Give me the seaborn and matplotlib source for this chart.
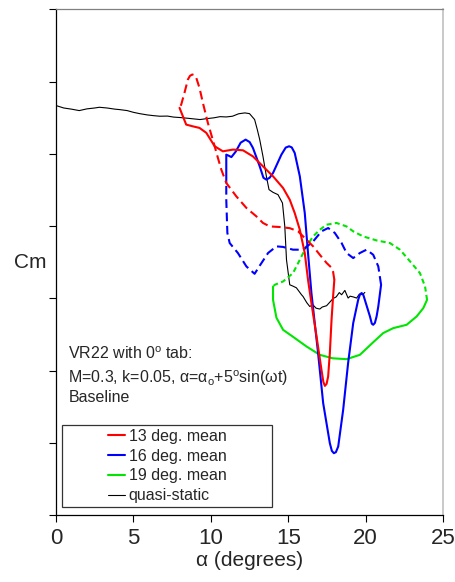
import numpy as np
import pandas as pd
import matplotlib
matplotlib.use("Agg")
import matplotlib.pyplot as plt
from matplotlib.lines import Line2D
from matplotlib.patches import Rectangle
import seaborn as sns

# quasi-static curve
qs_alpha = [0.0, 0.5, 1.0, 1.5, 2.0, 2.5, 2.8, 3.3, 3.8, 4.1, 4.6, 5.0, 5.4, 5.9, 6.3,
            6.7, 7.2, 7.6, 8.0, 8.5, 9.3, 9.8, 10.2, 10.6, 11.0, 11.4, 11.8, 12.2, 12.5,
            12.83, 13.0, 13.16, 13.37, 13.59, 13.76, 14.02, 14.34, 14.63, 14.78, 14.89,
            15.10, 15.3, 15.53, 15.86, 15.96, 16.2, 16.39, 16.6, 16.8, 17.04, 17.2, 17.48,
            17.7, 17.90, 18.1, 18.3, 18.45, 18.66, 18.87, 19.0, 19.2, 19.42, 19.6, 19.8, 19.95]
qs_cm = [0.0335, 0.0318, 0.0310, 0.0300, 0.0312, 0.0318, 0.0323, 0.0318, 0.0310, 0.0307,
         0.0300, 0.0288, 0.0279, 0.0270, 0.0265, 0.0261, 0.0262, 0.0255, 0.0252, 0.0247,
         0.0238, 0.0245, 0.0250, 0.0258, 0.0256, 0.0261, 0.0278, 0.0284, 0.0279, 0.0238,
         0.0170, 0.0099, -0.0017, -0.0155, -0.0247, -0.0266, -0.0282, -0.0340, -0.0502,
         -0.0733, -0.0906, -0.0915, -0.0927, -0.0975, -0.0987, -0.1030, -0.1056, -0.1045,
         -0.1068, -0.1074, -0.1060, -0.1051, -0.1025, -0.1001, -0.0990, -0.0960, -0.0975,
         -0.0945, -0.0998, -0.0985, -0.0990, -0.0998, -0.0970, -0.0975, -0.0959]

# 13 deg mean: upstroke (solid) and downstroke (dashed)
r_up_alpha = [7.98, 8.41, 8.84, 9.27, 9.71, 10.25, 10.78, 11.43, 12.08, 12.72, 13.37, 14.02,
              14.67, 15.10, 15.42, 15.75, 16.07, 16.28, 16.50, 16.83, 17.15, 17.27, 17.37,
              17.48, 17.58, 17.69, 17.80, 17.90, 17.98]
r_up_cm = [0.0319, 0.0203, 0.0191, 0.0180, 0.0146, 0.0053, 0.0018, 0.0030, 0.0025, -0.0017,
           -0.0086, -0.0155, -0.0236, -0.0317, -0.0409, -0.0525, -0.0686, -0.0871, -0.1033,
           -0.1264, -0.1495, -0.1578, -0.1606, -0.1592, -0.1541, -0.1379, -0.1148, -0.0987,
           -0.0871]
r_dn_alpha = [17.98, 17.90, 17.80, 17.48, 17.04, 16.61, 16.18, 15.64, 15.10, 14.45, 13.81,
              13.37, 12.94, 12.30, 11.65, 11.00, 10.68, 10.46, 10.25, 9.81, 9.49, 9.27, 9.06,
              8.95, 8.80, 8.65, 8.52, 8.30, 8.09, 7.98]
r_dn_cm = [-0.0871, -0.0816, -0.0788, -0.0755, -0.0698, -0.0640, -0.0594, -0.0536, -0.0514,
           -0.0506, -0.0502, -0.0478, -0.0432, -0.0374, -0.0294, -0.0201, -0.0109, -0.0028,
           0.0053, 0.0215, 0.0353, 0.0457, 0.0527, 0.0545, 0.0550, 0.0540, 0.0515, 0.0423,
           0.0342, 0.0319]

# 16 deg mean
b_up_alpha = [11.00, 11.00, 11.15, 11.33, 11.61, 11.93, 12.25, 12.51, 12.72, 13.16, 13.40,
              13.59, 13.80, 14.02, 14.56, 14.84, 15.06, 15.23, 15.42, 15.75, 16.07, 16.28,
              16.50, 16.93, 17.26, 17.69, 17.82, 17.95, 18.08, 18.23, 18.55, 18.87, 19.20,
              19.52, 19.63, 19.74, 19.85, 19.95, 20.28, 20.40, 20.49, 20.60, 20.71, 20.82,
              21.00]
b_up_cm = [-0.0199, -0.0005, -0.0012, -0.0022, 0.0016, 0.0078, 0.0099, 0.0082, 0.0042,
           -0.0086, -0.0165, -0.0178, -0.0165, -0.0132, -0.0005, 0.0044, 0.0053, 0.0045,
           0.0007, -0.0155, -0.0409, -0.0686, -0.0963, -0.1379, -0.1726, -0.2003, -0.2056,
           -0.2072, -0.2065, -0.2026, -0.1772, -0.1448, -0.1171, -0.1010, -0.0975, -0.0963,
           -0.0975, -0.1010, -0.1125, -0.1175, -0.1183, -0.1170, -0.1125, -0.1056, -0.0906]
b_dn_alpha = [21.00, 20.82, 20.49, 20.06, 19.63, 19.20, 18.77, 18.45, 18.01, 17.58, 17.15,
              16.61, 15.96, 15.31, 14.67, 14.24, 13.70, 13.16, 12.83, 12.30, 11.75, 11.22,
              11.07, 11.00, 11.00]
b_dn_cm = [-0.0906, -0.0779, -0.0698, -0.0663, -0.0686, -0.0721, -0.0686, -0.0617, -0.0547,
           -0.0513, -0.0536, -0.0606, -0.0663, -0.0663, -0.0644, -0.0640, -0.0686, -0.0774,
           -0.0830, -0.0779, -0.0686, -0.0617, -0.0547, -0.0317, -0.0199]

# 19 deg mean
g_up_alpha = [14.02, 14.02, 14.24, 14.67, 15.31, 16.18, 17.04, 17.88, 18.77, 19.63, 20.49,
              21.14, 21.79, 22.65, 23.30, 23.73, 23.97]
g_up_cm = [-0.0918, -0.1010, -0.1134, -0.1218, -0.1266, -0.1333, -0.1391, -0.1415, -0.1421,
           -0.1391, -0.1304, -0.1240, -0.1206, -0.1183, -0.1125, -0.1067, -0.1010]
g_dn_alpha = [23.97, 23.84, 23.51, 22.87, 22.22, 21.57, 20.71, 19.84, 19.20, 18.77, 18.12,
              17.48, 17.04, 16.61, 16.18, 15.75, 15.31, 14.67, 14.13, 14.02]
g_dn_cm = [-0.1010, -0.0918, -0.0825, -0.0744, -0.0663, -0.0617, -0.0599, -0.0571, -0.0536,
           -0.0502, -0.0478, -0.0490, -0.0525, -0.0571, -0.0640, -0.0733, -0.0825, -0.0883,
           -0.0906, -0.0918]

legend_labels = ["13 deg. mean", "16 deg. mean", "19 deg. mean", "quasi-static"]
colors = ["#ff0000", "#0000ff", "#00e600", "black"]

sns.set_style("ticks")
plt.rcParams['font.family'] = ['Liberation Sans', 'DejaVu Sans']
plt.rcParams['mathtext.fontset'] = 'custom'
plt.rcParams['mathtext.rm'] = 'Liberation Sans'
plt.rcParams['mathtext.it'] = 'Liberation Sans:italic'

fig = plt.figure(figsize=(4.56, 5.82), dpi=100)
ax = fig.add_axes([0.1228, 0.1151, 0.8487, 0.8686])

lw = 1.5
def draw(a, c, color, style, width=lw):
    df = pd.DataFrame({"alpha": a, "cm": c})
    sns.lineplot(data=df, x="alpha", y="cm", sort=False, estimator=None, color=color,
                 linewidth=width, linestyle=style, ax=ax)
    ax.lines[-1].set_solid_joinstyle("round")
    ax.lines[-1].set_dash_joinstyle("round")

draw(qs_alpha, qs_cm, "black", "-", 0.8)
draw(g_up_alpha, g_up_cm, colors[2], "-")
draw(g_dn_alpha, g_dn_cm, colors[2], (0, (2.4, 1.6)))
draw(b_up_alpha, b_up_cm, colors[1], "-")
draw(b_dn_alpha, b_dn_cm, colors[1], (0, (4.2, 2.2)))
draw(r_up_alpha, r_up_cm, colors[0], "-")
draw(r_dn_alpha, r_dn_cm, colors[0], (0, (4.2, 2.2)))

ax.set_xlim(0, 25)
ax.set_ylim(-0.25, 0.10)
ax.set_xticks(np.arange(0, 26, 5))
ax.set_yticks(np.arange(-0.25, 0.101, 0.05))
ax.set_yticklabels([])
ax.tick_params(axis='both', direction='out', length=5, width=0.8, color='black',
               labelsize=16, pad=4)
for side in ["left", "bottom"]:
    ax.spines[side].set_color("black")
    ax.spines[side].set_linewidth(0.9)
ax.spines["top"].set_visible(True)
ax.spines["right"].set_visible(True)
ax.spines["top"].set_color("#808080")
ax.spines["right"].set_color("#c0c0c0")
ax.spines["top"].set_linewidth(0.9)
ax.spines["right"].set_linewidth(1.2)

ax.set_xlabel("α (degrees)", fontsize=15, labelpad=2)
ax.set_ylabel("Cm", fontsize=15, rotation=0, ha="center", va="center")
ax.yaxis.set_label_coords(-0.066, 0.5)

ax.text(0.032, 0.309, "VR22 with 0$^{\\rm o}$ tab:", transform=ax.transAxes,
        fontsize=11.5, va="baseline")
ax.text(0.032, 0.261, "M=0.3, k=0.05, α=α$_{\\rm o}$+5$^{\\rm o}$sin(ωt)",
        transform=ax.transAxes, fontsize=11.5, va="baseline")
ax.text(0.032, 0.223, "Baseline", transform=ax.transAxes, fontsize=11.5, va="baseline")

handles = [Line2D([], [], color=colors[i], lw=(lw if i < 3 else 0.8)) for i in range(4)]
leg = ax.legend(handles, legend_labels, loc="center", bbox_to_anchor=(0.287, 0.097),
                frameon=False, fontsize=11.5, handlelength=1.1, handletextpad=0.2,
                labelspacing=0.3, borderpad=0)
ax.add_patch(Rectangle((0.0147, 0.0164), 0.544, 0.162, transform=ax.transAxes,
                       fill=False, edgecolor="#333333", linewidth=0.9))

fig.savefig("out.png", dpi=100)
